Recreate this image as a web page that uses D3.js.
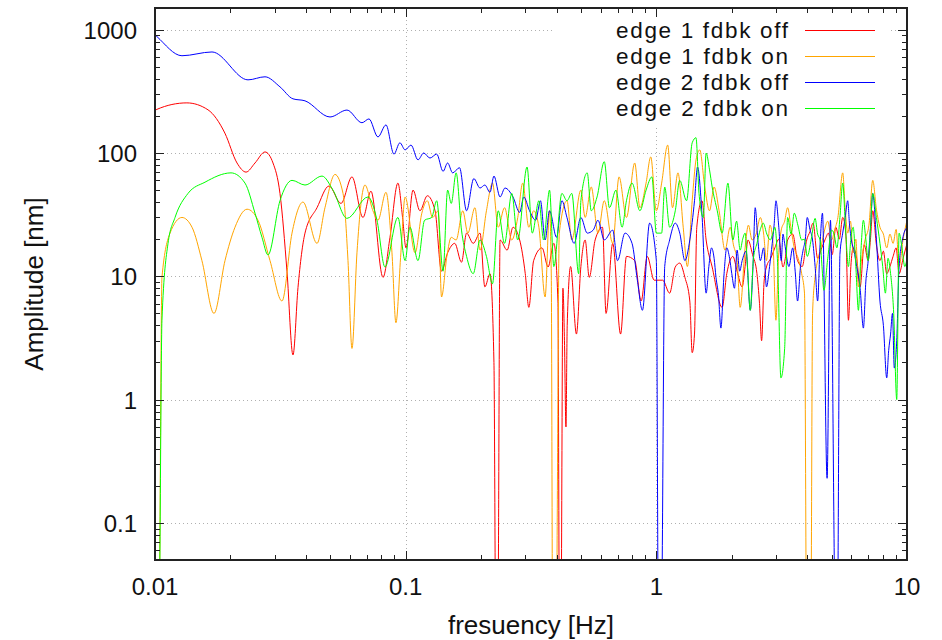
<!DOCTYPE html>
<html><head><meta charset="utf-8">
<script src="https://cdn.jsdelivr.net/npm/d3@7"></script>
<style>
html,body{margin:0;padding:0;background:#fff;}
svg{display:block;font-family:"Liberation Sans",Arial,sans-serif;}
</style></head>
<body><svg id="c" width="942" height="640"></svg>
<script>
// ---- data: [frequency Hz, amplitude nm] ----
const seriesNames = ["edge 1 fdbk off","edge 1 fdbk on","edge 2 fdbk off","edge 2 fdbk on"];
const seriesColors = ["#ff0000","#ffa500","#0000ff","#00ff00"];
const xTicks = [0.01,0.1,1,10];
const xTickLabels = ["0.01","0.1","1","10"];
const yTicks = [0.1,1,10,100,1000];
const yTickLabels = ["0.1","1","10","100","1000"];

const edge1Off = [
[0.0100,222],[0.01018,226],[0.0134,255],[0.01627,224],[0.0190,145],[0.02124,83],[0.02308,70],[0.02506,83],
[0.02747,102],[0.02956,83],[0.03152,47],[0.03361,11],[0.03552,2.3],[0.03719,8.1],[0.03966,22.4],[0.04429,36],
[0.04944,54],[0.05521,39],[0.06107,64],[0.06755,30],[0.07269,49],[0.0812,9.8],[0.08659,20.7],[0.09312,57],
[0.0972,30],[0.1003,17],[0.107,50],[0.114,34],[0.122,45],[0.131,34],[0.139,11],[0.147,15.5],[0.157,18.5],
[0.167,13],[0.175,22.4],[0.186,18.5],[0.198,22.4],[0.207,8.2],[0.217,10.5],[0.225,2],[0.229,0.01],[0.233,0.01],
[0.238,19.7],[0.254,16.3],[0.268,25],[0.285,19.7],[0.300,10.5],[0.310,5.6],[0.324,13.4],[0.35,17],[0.37,11.9],
[0.39,18.5],[0.405,6.3],[0.411,0.01],[0.416,0.01],[0.424,8],[0.430,3],[0.436,0.6],[0.441,4],[0.455,12],[0.48,3.4],
[0.50,12],[0.52,19.7],[0.54,9.8],[0.57,19.7],[0.61,25],[0.63,5],[0.67,18.5],[0.72,3.4],[0.76,14.5],[0.82,13.4],
[0.87,6.3],[0.92,14.5],[0.98,9.3],[1.06,9.3],[1.13,7.3],[1.19,11.9],[1.24,12.8],[1.30,9.8],[1.36,6.3],[1.39,2.4],
[1.42,3.4],[1.45,25],[1.52,41],[1.58,19.7],[1.67,11.9],[1.83,5.6],[1.91,10.5],[2.02,14.5],[2.1,11],[2.2,8.2],
[2.26,12],[2.32,19.7],[2.42,15],[2.52,10.5],[2.58,6],[2.63,3.0],[2.69,9],[2.75,11.9],[2.86,14],[2.97,17],[3.08,20],
[3.2,11.9],[3.27,14],[3.34,19.7],[3.5,22],[3.66,13.4],[3.82,12],[3.98,19.7],[4.1,23],[4.22,27],[4.4,14],[4.57,17],
[4.72,20],[4.86,22.4],[5.03,15],[5.2,25],[5.37,20],[5.54,30],[5.7,22.4],[5.84,4.4],[5.97,12],[6.1,17],[6.3,14],
[6.5,8.2],[6.75,18],[7.0,13.4],[7.15,20],[7.3,34],[7.55,18],[7.8,13.4],[8.05,16],[8.3,10.5],[8.55,12],[8.8,14.5],
[9.05,17],[9.3,10.5],[9.65,14],[10,18.5]];

const edge1On = [
[0.0100,0.01],[0.01035,0.01],[0.01066,9.8],[0.01148,22.4],[0.01281,30],[0.01405,25],[0.01539,13.4],[0.01719,5],
[0.01902,13.4],[0.02085,25],[0.02329,35],[0.02576,28.5],[0.02876,13.4],[0.03211,6.3],[0.0352,22.4],[0.03894,40],
[0.04429,18.5],[0.04765,36],[0.05224,67],[0.05625,47],[0.05887,13.4],[0.06107,2.6],[0.06393,15.5],[0.06881,55],
[0.07404,34],[0.07753,28.5],[0.08345,48],[0.08818,15.5],[0.09144,4.2],[0.0957,15.5],[0.0995,44],[0.109,15.5],
[0.116,32.5],[0.122,41],[0.128,30],[0.135,34],[0.139,6.8],[0.146,14.5],[0.152,20.7],[0.159,19.7],[0.169,34],
[0.177,22.4],[0.189,36],[0.198,16.3],[0.21,34],[0.222,57],[0.234,25],[0.248,36],[0.265,19.7],[0.28,30],[0.293,57],
[0.31,25],[0.324,34],[0.34,25],[0.36,6.8],[0.375,34],[0.381,10],[0.386,0.01],[0.398,0.01],[0.41,22.4],[0.44,41],
[0.46,19.7],[0.50,50],[0.52,30],[0.55,53],[0.585,22.4],[0.62,41],[0.67,18.5],[0.71,64],[0.76,30],[0.82,83],
[0.86,36],[0.91,57],[0.95,93],[1.0,34],[1.05,57],[1.11,116],[1.16,36],[1.22,69],[1.28,25],[1.33,12],[1.39,41],
[1.44,88],[1.49,106],[1.56,53],[1.63,34],[1.70,53],[1.78,34],[1.88,16.3],[1.97,25],[2.03,18],[2.1,13.4],[2.16,5.6],
[2.26,17],[2.33,26],[2.41,19.7],[2.5,22],[2.6,30],[2.68,22],[2.75,13.4],[2.84,26],[2.92,18.5],[3.0,4.4],[3.07,14],
[3.15,23.7],[3.25,28],[3.34,36],[3.45,24],[3.55,17],[3.68,14],[3.8,10.5],[3.9,7.3],[3.98,0.01],[4.13,0.01],[4.2,5],
[4.3,10],[4.4,13.4],[4.53,17],[4.66,22.4],[4.83,28],[5.0,19.7],[5.15,24],[5.3,30],[5.54,69],[5.67,35],[5.8,22.4],
[5.95,28],[6.1,15.5],[6.25,20],[6.4,8.2],[6.6,14],[6.8,19.7],[7.05,26],[7.3,60],[7.55,35],[7.8,25],[8.05,22],
[8.3,17],[8.55,22],[8.8,18.5],[9.05,24],[9.3,12],[9.65,20],[10,28.5]];

const edge2Off = [
[0.0100,910],[0.01018,880],[0.01281,615],[0.01688,660],[0.0235,392],[0.02747,415],[0.03152,344],[0.03552,275],
[0.03966,265],[0.0499,196],[0.05833,223],[0.06694,176],[0.07138,189],[0.07753,135],[0.08345,169],[0.0898,98],
[0.09483,121],[0.0995,106],[0.105,116],[0.112,88],[0.118,100],[0.125,91],[0.133,98],[0.141,71],[0.147,83],
[0.154,69],[0.164,76],[0.175,34],[0.187,62],[0.198,52],[0.207,55],[0.217,48],[0.225,65],[0.238,44],[0.249,52],
[0.268,44],[0.285,33],[0.296,44],[0.312,34],[0.33,28.5],[0.345,41],[0.36,19.7],[0.375,34],[0.40,20.7],[0.42,41],
[0.44,30],[0.47,18.5],[0.50,30],[0.53,22.4],[0.56,23.7],[0.585,28.5],[0.62,19.7],[0.67,23.7],[0.70,13.4],
[0.75,22.4],[0.80,18.5],[0.84,9.3],[0.88,5.3],[0.94,27],[1.0,13.4],[1.02,0.01],[1.045,0.01],[1.08,12],[1.13,19.7],
[1.19,27],[1.24,22.4],[1.30,13.4],[1.36,19.7],[1.42,41],[1.46,77],[1.52,32.5],[1.58,7.3],[1.62,12],[1.66,17],
[1.7,14],[1.73,9.8],[1.77,7],[1.81,3.8],[1.86,10],[1.91,17],[1.96,14],[2.0,10.5],[2.05,8],[2.1,16.3],[2.15,11],
[2.2,13.4],[2.28,16],[2.37,5.3],[2.43,12],[2.48,36],[2.54,20],[2.6,13.4],[2.68,17],[2.75,8.2],[2.83,12],[2.9,18.5],
[2.95,26],[3.0,41],[3.08,25],[3.15,13.4],[3.2,22],[3.25,18.5],[3.38,12],[3.5,17],[3.58,11],[3.66,6.3],[3.76,12],
[3.85,16.3],[3.93,20],[4.0,30],[4.1,24],[4.2,19.7],[4.3,12],[4.4,6.3],[4.5,18],[4.6,32.5],[4.8,0.23],[4.95,28.5],
[5.2,0.01],[5.27,0.01],[5.4,15],[5.54,22.4],[5.67,30],[5.8,41],[5.9,26],[6.0,19.7],[6.15,16],[6.3,12],[6.5,8],
[6.7,3.8],[6.85,9],[7.0,13.4],[7.15,25],[7.3,47],[7.55,20],[7.8,6.3],[8.05,4],[8.3,1.5],[8.45,2.5],[8.6,3.4],
[8.75,5],[8.9,1.8],[9.1,3],[9.3,12],[9.6,20],[10,25]];

const edge2On = [
[0.0100,0.01],[0.01035,0.01],[0.01066,4.4],[0.01127,18.5],[0.01202,30],[0.01354,47],[0.01583,58],[0.0201,69],
[0.02286,57],[0.02506,32.5],[0.02672,20.7],[0.02823,14.9],[0.03152,41],[0.0352,60],[0.03966,55],[0.04637,65],
[0.05129,50],[0.05833,29.5],[0.07073,44],[0.07683,28.5],[0.08268,11.9],[0.09312,30],[0.0995,13.4],[0.104,25],
[0.112,13.4],[0.119,28.5],[0.127,30],[0.133,41],[0.141,11],[0.147,50],[0.152,39],[0.159,69],[0.167,23.7],
[0.175,14.5],[0.186,10.5],[0.198,19.7],[0.21,14.5],[0.222,8.7],[0.234,34],[0.248,18.5],[0.265,47],[0.28,19.7],
[0.305,77],[0.32,22.4],[0.34,41],[0.355,19.7],[0.375,50],[0.39,12],[0.42,47],[0.44,41],[0.46,47],[0.49,10.5],
[0.5,41],[0.53,69],[0.55,34],[0.58,44],[0.62,85],[0.65,36],[0.69,50],[0.73,25],[0.76,41],[0.8,57],[0.86,34],
[0.91,50],[0.96,64],[1.0,22.4],[1.05,22.4],[1.08,53],[1.13,25],[1.19,34],[1.24,60],[1.32,41],[1.39,121],[1.44,133],
[1.48,47],[1.54,30],[1.58,100],[1.63,73],[1.67,53],[1.75,34],[1.83,22.4],[1.93,57],[2.02,19.7],[2.09,28],[2.16,16.3],
[2.21,20],[2.26,22.4],[2.31,12],[2.37,5.3],[2.44,14],[2.52,18.5],[2.6,24],[2.67,27],[2.76,22],[2.85,19.7],[2.91,22],
[2.97,25],[3.05,12],[3.14,1.5],[3.25,2.6],[3.34,30],[3.45,22],[3.55,32.5],[3.67,26],[3.8,19.7],[3.9,20],[4.0,14.5],
[4.15,20],[4.3,29.5],[4.4,22],[4.5,19.7],[4.58,12],[4.66,7.7],[4.83,14],[5.0,23.7],[5.12,22],[5.25,17],[5.4,30],
[5.54,57],[5.7,22],[5.84,12],[5.97,20],[6.1,25],[6.25,12],[6.4,5.3],[6.55,16],[6.7,28.5],[6.85,20],[7.0,13.4],
[7.15,24],[7.3,47],[7.55,30],[7.8,18.5],[8.0,12],[8.2,7.3],[8.4,14],[8.6,10.5],[8.85,5],[9.1,1.0],[9.3,22.4],
[9.55,17],[9.8,12],[10,14]];

const allSeries = [edge1Off, edge1On, edge2Off, edge2On];

// ---- layout ----
const L = 155, R = 907, T = 8, B = 560;
const svg = d3.select("#c");
const x = d3.scaleLog().domain([0.01, 10]).range([L, R]);
const y = d3.scaleLog().domain([0.05, 1500]).range([B, T]);

svg.append("defs").append("clipPath").attr("id","plotclip")
  .append("rect").attr("x",L).attr("y",T).attr("width",R-L).attr("height",B-T);

// grid
const grid = svg.append("g").attr("stroke","#b0b0b0").attr("stroke-width",1).attr("stroke-dasharray","1,3");
yTicks.forEach(v => grid.append("line").attr("x1",L).attr("x2",R).attr("y1",Math.round(y(v))+0.5).attr("y2",Math.round(y(v))+0.5));
xTicks.slice(1,-1).forEach(v => grid.append("line").attr("y1",T).attr("y2",B).attr("x1",Math.round(x(v))+0.5).attr("x2",Math.round(x(v))+0.5));

// data
const line = d3.line().x(d => x(d[0])).y(d => y(d[1])).curve(d3.curveMonotoneX);
const dg = svg.append("g").attr("clip-path","url(#plotclip)");
allSeries.forEach((s,i) => {
  dg.append("path").datum(s).attr("d", line).attr("fill","none")
    .attr("stroke", seriesColors[i]).attr("stroke-width",1).attr("stroke-linejoin","round");
});

// legend
const lg = svg.append("g");
lg.append("rect").attr("x",552).attr("y",10).attr("width",338).attr("height",115).attr("fill","#fff");
seriesNames.forEach((n,i) => {
  const yy = 30 + i*26;
  lg.append("text").attr("x",788).attr("y",yy+8).attr("text-anchor","end")
    .attr("font-size",22.5).attr("fill","#111")
    .attr("textLength",172).attr("lengthAdjust","spacing").text(n);
  lg.append("line").attr("x1",805).attr("x2",875).attr("y1",yy+0.5).attr("y2",yy+0.5)
    .attr("stroke",seriesColors[i]).attr("stroke-width",1);
});

// ticks
const tk = svg.append("g").attr("stroke","#222").attr("stroke-width",1);
const xMinor = [], yMinor = [];
for (let e=-2;e<1;e++) for (let k=2;k<10;k++) xMinor.push(k*Math.pow(10,e));
for (let e=-2;e<4;e++) for (let k=2;k<10;k++){ const v=k*Math.pow(10,e); if (v>=0.05 && v<=1500) yMinor.push(v); }
xTicks.forEach(v => { const px=Math.round(x(v))+0.5;
  tk.append("line").attr("x1",px).attr("x2",px).attr("y1",B).attr("y2",B-9);
  tk.append("line").attr("x1",px).attr("x2",px).attr("y1",T).attr("y2",T+9); });
xMinor.forEach(v => { const px=Math.round(x(v))+0.5;
  tk.append("line").attr("x1",px).attr("x2",px).attr("y1",B).attr("y2",B-5);
  tk.append("line").attr("x1",px).attr("x2",px).attr("y1",T).attr("y2",T+5); });
yTicks.forEach(v => { const py=Math.round(y(v))+0.5;
  tk.append("line").attr("x1",L).attr("x2",L+9).attr("y1",py).attr("y2",py);
  tk.append("line").attr("x1",R).attr("x2",R-9).attr("y1",py).attr("y2",py); });
yMinor.forEach(v => { const py=Math.round(y(v))+0.5;
  tk.append("line").attr("x1",L).attr("x2",L+5).attr("y1",py).attr("y2",py);
  tk.append("line").attr("x1",R).attr("x2",R-5).attr("y1",py).attr("y2",py); });

// frame
svg.append("rect").attr("x",L).attr("y",T).attr("width",R-L).attr("height",B-T)
  .attr("fill","none").attr("stroke","#222").attr("stroke-width",2);

// tick labels
const lab = svg.append("g").attr("font-size",24).attr("fill","#111");
xTicks.forEach((v,i) => lab.append("text").attr("x",x(v)).attr("y",595).attr("text-anchor","middle").text(xTickLabels[i]));
yTicks.forEach((v,i) => lab.append("text").attr("x",137).attr("y",y(v)+9).attr("text-anchor","end").text(yTickLabels[i]));

// axis titles
svg.append("text").attr("x",(L+R)/2).attr("y",634).attr("text-anchor","middle")
  .attr("font-size",26).attr("fill","#111").text("fresuency [Hz]");
svg.append("text").attr("transform",`translate(43,${(T+B)/2}) rotate(-90)`).attr("text-anchor","middle")
  .attr("font-size",26).attr("fill","#111").text("Amplitude [nm]");
</script></body></html>
